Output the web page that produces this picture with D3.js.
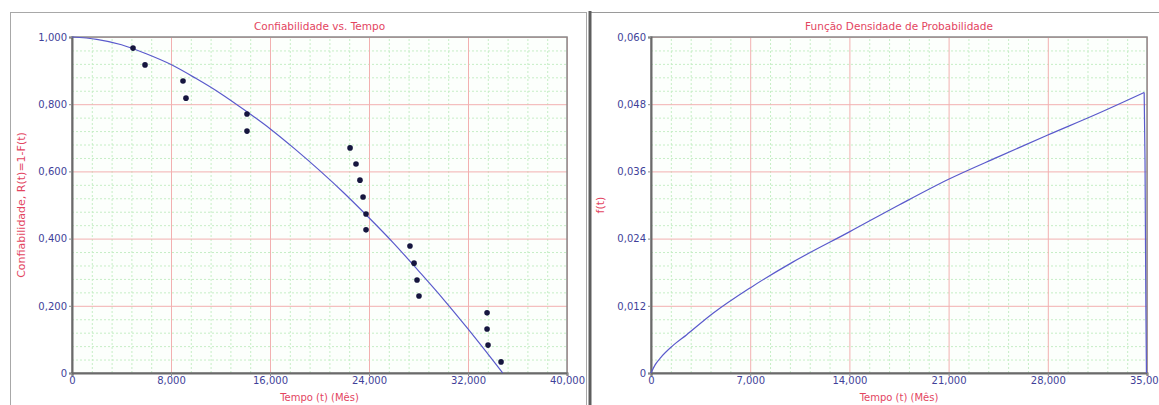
<!DOCTYPE html>
<html>
<head>
<meta charset="utf-8">
<script src="https://cdn.jsdelivr.net/npm/d3@7"></script>
<style>
body { margin: 0; background: #fff; }
svg text { font-family: "DejaVu Sans", Verdana, sans-serif; }
</style>
</head>
<body>
<svg id="vis" width="1159" height="405"></svg>
<script>
////////////////////////////////////////////////////////////
// DATA
////////////////////////////////////////////////////////////
var rel_x_ticks = [0, 8000, 16000, 24000, 32000, 40000];
var rel_x_labels = ["0", "8,000", "16,000", "24,000", "32,000", "40,000"];
var rel_y_ticks = [0, 0.2, 0.4, 0.6, 0.8, 1.0];
var rel_y_labels = ["0", "0,200", "0,400", "0,600", "0,800", "1,000"];

var pdf_x_ticks = [0, 7000, 14000, 21000, 28000, 35000];
var pdf_x_labels = ["0", "7,000", "14,000", "21,000", "28,000", "35,000"];
var pdf_y_ticks = [0, 0.012, 0.024, 0.036, 0.048, 0.060];
var pdf_y_labels = ["0", "0,012", "0,024", "0,036", "0,048", "0,060"];

// failure points (median ranks)
var fail_times = [4930, 5900, 8970, 9210, 14140, 14140, 22470, 22950, 23270, 23520,
                  23760, 23760, 27310, 27640, 27880, 28040, 33540, 33540, 33620, 34670];
var fail_rel = [0.967, 0.917, 0.869, 0.818, 0.771, 0.720, 0.670, 0.622, 0.574, 0.524,
                0.473, 0.426, 0.378, 0.327, 0.277, 0.229, 0.179, 0.131, 0.083, 0.033];

// fitted reliability line
var rel_curve_t = [0, 2000, 4000, 6000, 8000, 10000, 12000, 14000, 16000, 18000,
                   20000, 22000, 24000, 26000, 28000, 30000, 32000, 33000, 34000, 34800];
var rel_curve_r = [1.000, 0.993, 0.977, 0.950, 0.918, 0.877, 0.832, 0.781, 0.727, 0.667,
                   0.603, 0.535, 0.462, 0.386, 0.304, 0.220, 0.131, 0.085, 0.038, 0.000];

// probability density line (rising part, then the drop at the end)
var pdf_curve_t = [0, 300, 700, 1500, 2500, 4400, 7000, 10000, 14000, 17500,
                   21000, 24500, 28000, 31500, 34800];
var pdf_curve_f = [0, 0.0015, 0.0028, 0.0048, 0.0068, 0.0107, 0.0152, 0.0198, 0.0252, 0.0300,
                   0.0346, 0.0386, 0.0425, 0.0463, 0.0501];
var pdf_drop_t = [34800, 34860, 34920, 34960];
var pdf_drop_f = [0.0501, 0.0380, 0.0120, 0.0000];

var title_color = "#e3455f";
var tick_color = "#3f3f99";
var line_color = "#5a5acc";

var svg = d3.select("#vis");

// panel frames
svg.append("rect")
    .attr("x", 10.5).attr("y", 12.5)
    .attr("width", 576).attr("height", 400)
    .attr("fill", "none")
    .attr("stroke", "#a8a8a8");
svg.append("line")
    .attr("x1", 590).attr("x2", 1159).attr("y1", 12.5).attr("y2", 12.5)
    .attr("stroke", "#9a9a9a");
svg.append("line")
    .attr("x1", 590).attr("x2", 590).attr("y1", 11).attr("y2", 405)
    .attr("stroke", "#5e5e5e")
    .attr("stroke-width", 3);

var rel = make_panel({
    left: 72, right: 567, top: 37, bottom: 373,
    xdom: [0, 40000], ydom: [0, 1],
    xticks: rel_x_ticks, xlabels: rel_x_labels,
    yticks: rel_y_ticks, ylabels: rel_y_labels,
    title: "Confiabilidade vs. Tempo",
    ytitle: "Confiabilidade, R(t)=1-F(t)", ytitle_x: 25
});

var pdf = make_panel({
    left: 651, right: 1147, top: 37, bottom: 373,
    xdom: [0, 35000], ydom: [0, 0.06],
    xticks: pdf_x_ticks, xlabels: pdf_x_labels,
    yticks: pdf_y_ticks, ylabels: pdf_y_labels,
    title: "Função Densidade de Probabilidade",
    ytitle: "f(t)", ytitle_x: 604
});

// reliability line + points
var relLine = d3.line()
    .x(function(d, i) { return rel.x(rel_curve_t[i]); })
    .y(function(d, i) { return rel.y(rel_curve_r[i]); })
    .curve(d3.curveMonotoneX);
rel.g.append("path")
    .datum(rel_curve_t)
    .attr("fill", "none")
    .attr("stroke", line_color)
    .attr("stroke-width", 1.2)
    .attr("d", relLine);

rel.g.selectAll("circle.pt")
    .data(fail_times)
    .enter().append("circle")
    .attr("class", "pt")
    .attr("cx", function(d) { return rel.x(d); })
    .attr("cy", function(d, i) { return rel.y(fail_rel[i]); })
    .attr("r", 2.8)
    .attr("fill", "#16163f");

// pdf line
var pdfLine = d3.line()
    .x(function(d, i) { return pdf.x(pdf_curve_t[i]); })
    .y(function(d, i) { return pdf.y(pdf_curve_f[i]); })
    .curve(d3.curveMonotoneX);
pdf.g.append("path")
    .datum(pdf_curve_t)
    .attr("fill", "none")
    .attr("stroke", line_color)
    .attr("stroke-width", 1.2)
    .attr("d", pdfLine);

var dropLine = d3.line()
    .x(function(d, i) { return pdf.x(pdf_drop_t[i]); })
    .y(function(d, i) { return pdf.y(pdf_drop_f[i]); });
pdf.g.append("path")
    .datum(pdf_drop_t)
    .attr("fill", "none")
    .attr("stroke", line_color)
    .attr("stroke-width", 1.2)
    .attr("stroke-linejoin", "round")
    .attr("d", dropLine);

function make_panel(o) {
    var width = o.right - o.left;
    var height = o.bottom - o.top;
    var x = d3.scaleLinear().domain(o.xdom).range([0, width]);
    var y = d3.scaleLinear().domain(o.ydom).range([height, 0]);

    var g = svg.append("g")
        .attr("transform", "translate(" + o.left + "," + o.top + ")");

    g.append("rect")
        .attr("width", width).attr("height", height)
        .attr("fill", "#fcfffc");

    // minor gridlines, 5 per major step
    var xstep = (o.xticks[1] - o.xticks[0]) / 5;
    var ystep = (o.yticks[1] - o.yticks[0]) / 5;
    var xminor = d3.range(o.xdom[0], o.xdom[1], xstep).filter(function(v, i) { return i % 5 != 0; });
    var yminor = d3.range(o.ydom[0], o.ydom[1] - ystep / 2, ystep).filter(function(v, i) { return i % 5 != 0; });

    g.append("g")
        .attr("class", "grid minor")
        .attr("transform", "translate(0," + height + ")")
        .call(d3.axisBottom(x).tickValues(xminor).tickSize(-height).tickFormat(""));
    g.append("g")
        .attr("class", "grid minor")
        .call(d3.axisLeft(y).tickValues(yminor).tickSize(-width).tickFormat(""));
    g.selectAll(".minor line")
        .attr("stroke", "#c6eec6")
        .attr("stroke-dasharray", "2,2");

    // major gridlines
    g.append("g")
        .attr("class", "grid major")
        .attr("transform", "translate(0," + height + ")")
        .call(d3.axisBottom(x).tickValues(o.xticks).tickSize(-height).tickFormat(""));
    g.append("g")
        .attr("class", "grid major")
        .call(d3.axisLeft(y).tickValues(o.yticks).tickSize(-width).tickFormat(""));
    g.selectAll(".major line").attr("stroke", "#f2b0b0");
    g.selectAll(".grid .domain").remove();

    // frame
    g.append("rect")
        .attr("width", width).attr("height", height)
        .attr("fill", "none")
        .attr("stroke", "#8a8a8a")
        .attr("stroke-width", 1.5);

    // axes
    var xa = g.append("g")
        .attr("transform", "translate(0," + height + ")")
        .call(d3.axisBottom(x).tickValues(o.xticks).tickSize(3).tickPadding(1)
            .tickFormat(function(d, i) { return o.xlabels[i]; }));
    var ya = g.append("g")
        .call(d3.axisLeft(y).tickValues(o.yticks).tickSize(3).tickPadding(2)
            .tickFormat(function(d, i) { return o.ylabels[i]; }));
    [xa, ya].forEach(function(a) {
        a.select(".domain").attr("stroke", "#6a6a6a").attr("stroke-width", 2);
        a.selectAll(".tick line").attr("stroke", "#8a8a8a");
        a.selectAll("text")
            .attr("fill", tick_color)
            .style("font-size", "10px")
            .style("font-family", "'DejaVu Sans', Verdana, sans-serif");
    });

    // titles
    svg.append("text")
        .attr("x", o.left + width / 2).attr("y", 30)
        .attr("text-anchor", "middle")
        .attr("fill", title_color)
        .style("font-size", "10.5px")
        .text(o.title);
    svg.append("text")
        .attr("x", o.left + width / 2).attr("y", 401)
        .attr("text-anchor", "middle")
        .attr("fill", title_color)
        .style("font-size", "10px")
        .text("Tempo (t) (Mês)");
    svg.append("text")
        .attr("transform", "translate(" + o.ytitle_x + "," + (o.top + height / 2) + ") rotate(-90)")
        .attr("text-anchor", "middle")
        .attr("fill", title_color)
        .style("font-size", "11px")
        .text(o.ytitle);

    return {g: g, x: x, y: y};
}
</script>
</body>
</html>
